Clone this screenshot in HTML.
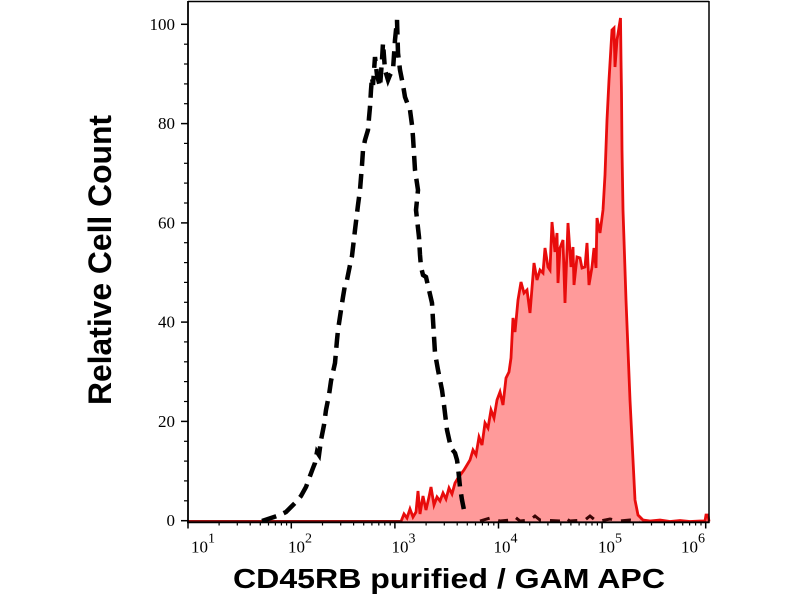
<!DOCTYPE html>
<html>
<head>
<meta charset="utf-8">
<style>
html,body{margin:0;padding:0;background:#fff;}
svg{display:block;}
</style>
</head>
<body>
<svg width="800" height="600" viewBox="0 0 800 600" xmlns="http://www.w3.org/2000/svg">
<rect x="0" y="0" width="800" height="600" fill="#fff"/>

<!-- red filled histogram -->
<path fill="#ff9a9a" stroke="none" d="M188,521.5 L401,521.5 L404,514 L407,518 L410,509 L413,517 L416,512 L418,491 L420,514 L423,496 L426,510 L429,497 L431,487 L434,505 L437,497 L440,501 L443,493 L446,499 L449,488 L452,494 L455,483 L458,478 L461,474 L464,470 L467,465 L470,460 L473,450 L476,455 L479,437 L482,445 L485,423 L488,428 L491,410 L494,418 L497,400 L500,392 L503,405 L506,378 L509,372 L511,358 L513,318 L515,332 L518,300 L521,282 L524,293 L527,290 L530,313 L534,263 L537,280 L540,270 L543,273 L545,248 L548,267 L550,270 L552,222 L555,252 L557,233 L558,283 L560,248 L563,240 L565,303 L568,223 L571,267 L573,247 L574,285 L577,257 L580,258 L582,268 L585,267 L587,243 L589,285 L592,267 L594,248 L596,268 L597,218 L600,233 L603,210 L605,175 L607,120 L609,80 L612,30 L614,28 L615,67 L617,40 L620.5,18 L621,60 L621.5,93 L622,150 L623,210 L626,300 L630,400 L633,460 L635,500 L638,515 L643,520 L650,521 L660,520 L670,521.5 L680,520.5 L690,521.5 L700,521 L705,521 L706,515 L708,515 L709,521.5 Z"/>
<path fill="none" stroke="#e80c0c" stroke-width="2.8" stroke-linejoin="miter" d="M188,521.5 L401,521.5 L404,514 L407,518 L410,509 L413,517 L416,512 L418,491 L420,514 L423,496 L426,510 L429,497 L431,487 L434,505 L437,497 L440,501 L443,493 L446,499 L449,488 L452,494 L455,483 L458,478 L461,474 L464,470 L467,465 L470,460 L473,450 L476,455 L479,437 L482,445 L485,423 L488,428 L491,410 L494,418 L497,400 L500,392 L503,405 L506,378 L509,372 L511,358 L513,318 L515,332 L518,300 L521,282 L524,293 L527,290 L530,313 L534,263 L537,280 L540,270 L543,273 L545,248 L548,267 L550,270 L552,222 L555,252 L557,233 L558,283 L560,248 L563,240 L565,303 L568,223 L571,267 L573,247 L574,285 L577,257 L580,258 L582,268 L585,267 L587,243 L589,285 L592,267 L594,248 L596,268 L597,218 L600,233 L603,210 L605,175 L607,120 L609,80 L612,30 L614,28 L615,67 L617,40 L620.5,18 L621,60 L621.5,93 L622,150 L623,210 L626,300 L630,400 L633,460 L635,500 L638,515 L643,520 L650,521 L660,520 L670,521.5 L680,520.5 L690,521.5 L700,521 L705,521 L706,515 L708,515 L709,521.5"/>
<!-- dark baseline overlap -->
<line x1="188" y1="521.5" x2="402" y2="521.5" stroke="#9a1212" stroke-width="3"/>

<!-- black dashed histogram -->
<path fill="none" stroke="#000" stroke-width="4.5" stroke-dasharray="15 8" stroke-linejoin="miter" d="M262,521 L268,519 L274,517 L280,515 L286,512 L291,507 L296,502 L301,496 L306,487 L310,476 L313,468 L315,463 L317,452 L319,455 L321,440 L324,425 L326,410 L329,395 L331,381 L333,372 L335,363 L337,340 L338,330 L341,310 L343,297 L345,285 L347,280 L350,265 L352,256 L355,230 L358,205 L360,190 L362,165 L363,150 L365,140 L368,130 L369,118 L370,107 L371,90 L372,77 L373,85 L375,57 L377,75 L380,87 L382,60 L383,43 L385,70 L388,80 L390,75 L393,70 L395,40 L397,20 L398,53 L400,70 L403,85 L405,97 L408,105 L410,110 L412,125 L413,137 L415,170 L418,190 L416,210 L419,237 L420,255 L421,267 L423,275 L426,277 L429,290 L432,303 L433,320 L435,353 L438,370 L442,390 L444,405 L447,430 L451,448 L455,453 L457,460 L458,467 L460,487 L462,500 L464,510"/>
<path fill="none" stroke="#3a0505" stroke-width="3" stroke-dasharray="10 9" d="M480,521 L490,518 L500,521 L510,520 L515,517 L520,521 L530,520 L535,516 L540,520 L560,521 L565,518 L570,521 L585,520 L590,516 L595,520 L600,521 L610,519 L620,521 L630,520 L640,521"/>

<!-- frame -->
<line x1="188" y1="1.5" x2="709" y2="1.5" stroke="#000" stroke-width="1.5"/>
<line x1="709" y1="1" x2="709" y2="523" stroke="#000" stroke-width="1.5"/>
<line x1="188" y1="1" x2="188" y2="523" stroke="#000" stroke-width="1.8"/>
<line x1="187" y1="522.3" x2="709.5" y2="522.3" stroke="#000" stroke-width="1.8"/>

<!-- y ticks -->
<g stroke="#000" stroke-width="1.5">
<line x1="181" y1="520.7" x2="188" y2="520.7"/>
<line x1="181" y1="421.4" x2="188" y2="421.4"/>
<line x1="181" y1="322.1" x2="188" y2="322.1"/>
<line x1="181" y1="222.9" x2="188" y2="222.9"/>
<line x1="181" y1="123.6" x2="188" y2="123.6"/>
<line x1="181" y1="24.3" x2="188" y2="24.3"/>
</g>
<g stroke="#000" stroke-width="1.2">
<line x1="184" y1="500.8" x2="188" y2="500.8"/><line x1="184" y1="480.9" x2="188" y2="480.9"/><line x1="184" y1="461.1" x2="188" y2="461.1"/><line x1="184" y1="441.3" x2="188" y2="441.3"/>
<line x1="184" y1="401.5" x2="188" y2="401.5"/><line x1="184" y1="381.6" x2="188" y2="381.6"/><line x1="184" y1="361.8" x2="188" y2="361.8"/><line x1="184" y1="341.9" x2="188" y2="341.9"/>
<line x1="184" y1="302.3" x2="188" y2="302.3"/><line x1="184" y1="282.4" x2="188" y2="282.4"/><line x1="184" y1="262.6" x2="188" y2="262.6"/><line x1="184" y1="242.7" x2="188" y2="242.7"/>
<line x1="184" y1="203.0" x2="188" y2="203.0"/><line x1="184" y1="183.1" x2="188" y2="183.1"/><line x1="184" y1="163.3" x2="188" y2="163.3"/><line x1="184" y1="143.4" x2="188" y2="143.4"/>
<line x1="184" y1="103.7" x2="188" y2="103.7"/><line x1="184" y1="83.9" x2="188" y2="83.9"/><line x1="184" y1="64.0" x2="188" y2="64.0"/><line x1="184" y1="44.2" x2="188" y2="44.2"/>
</g>
<g font-family="Liberation Serif, serif" font-size="17" fill="#000" text-anchor="end">
<text x="175" y="526">0</text>
<text x="175" y="427">20</text>
<text x="175" y="327.5">40</text>
<text x="175" y="228.5">60</text>
<text x="175" y="129">80</text>
<text x="175" y="30">100</text>
</g>

<!-- x ticks -->
<g stroke="#000" stroke-width="1.5">
<line x1="188" y1="522" x2="188" y2="528.5"/>
<line x1="291.3" y1="522" x2="291.3" y2="528.5"/>
<line x1="394.9" y1="522" x2="394.9" y2="528.5"/>
<line x1="498.5" y1="522" x2="498.5" y2="528.5"/>
<line x1="602.1" y1="522" x2="602.1" y2="528.5"/>
<line x1="705.7" y1="522" x2="705.7" y2="528.5"/>
</g>
<g stroke="#000" stroke-width="1.2">
<line x1="219.1" y1="522" x2="219.1" y2="525.5"/><line x1="237.3" y1="522" x2="237.3" y2="525.5"/><line x1="250.2" y1="522" x2="250.2" y2="525.5"/><line x1="260.3" y1="522" x2="260.3" y2="525.5"/><line x1="268.5" y1="522" x2="268.5" y2="525.5"/><line x1="275.4" y1="522" x2="275.4" y2="525.5"/><line x1="281.4" y1="522" x2="281.4" y2="525.5"/><line x1="286.6" y1="522" x2="286.6" y2="525.5"/>
<line x1="322.5" y1="522" x2="322.5" y2="525.5"/><line x1="340.7" y1="522" x2="340.7" y2="525.5"/><line x1="353.6" y1="522" x2="353.6" y2="525.5"/><line x1="363.7" y1="522" x2="363.7" y2="525.5"/><line x1="371.9" y1="522" x2="371.9" y2="525.5"/><line x1="378.8" y1="522" x2="378.8" y2="525.5"/><line x1="384.8" y1="522" x2="384.8" y2="525.5"/><line x1="390.2" y1="522" x2="390.2" y2="525.5"/>
<line x1="426.1" y1="522" x2="426.1" y2="525.5"/><line x1="444.3" y1="522" x2="444.3" y2="525.5"/><line x1="457.2" y1="522" x2="457.2" y2="525.5"/><line x1="467.3" y1="522" x2="467.3" y2="525.5"/><line x1="475.5" y1="522" x2="475.5" y2="525.5"/><line x1="482.4" y1="522" x2="482.4" y2="525.5"/><line x1="488.4" y1="522" x2="488.4" y2="525.5"/><line x1="493.8" y1="522" x2="493.8" y2="525.5"/>
<line x1="529.7" y1="522" x2="529.7" y2="525.5"/><line x1="547.9" y1="522" x2="547.9" y2="525.5"/><line x1="560.8" y1="522" x2="560.8" y2="525.5"/><line x1="570.9" y1="522" x2="570.9" y2="525.5"/><line x1="579.1" y1="522" x2="579.1" y2="525.5"/><line x1="586.0" y1="522" x2="586.0" y2="525.5"/><line x1="592.0" y1="522" x2="592.0" y2="525.5"/><line x1="597.4" y1="522" x2="597.4" y2="525.5"/>
<line x1="633.3" y1="522" x2="633.3" y2="525.5"/><line x1="651.5" y1="522" x2="651.5" y2="525.5"/><line x1="664.4" y1="522" x2="664.4" y2="525.5"/><line x1="674.5" y1="522" x2="674.5" y2="525.5"/><line x1="682.7" y1="522" x2="682.7" y2="525.5"/><line x1="689.6" y1="522" x2="689.6" y2="525.5"/><line x1="695.6" y1="522" x2="695.6" y2="525.5"/><line x1="701.0" y1="522" x2="701.0" y2="525.5"/>
</g>
<g font-family="Liberation Serif, serif" fill="#000">
<text x="191" y="552.5" font-size="17">10<tspan font-size="14" dy="-10">1</tspan></text>
<text x="288" y="552.5" font-size="17">10<tspan font-size="14" dy="-10">2</tspan></text>
<text x="391.5" y="552.5" font-size="17">10<tspan font-size="14" dy="-10">3</tspan></text>
<text x="493.5" y="552.5" font-size="17">10<tspan font-size="14" dy="-10">4</tspan></text>
<text x="598" y="552.5" font-size="17">10<tspan font-size="14" dy="-10">5</tspan></text>
<text x="681" y="552.5" font-size="17">10<tspan font-size="14" dy="-10">6</tspan></text>
</g>

<!-- axis titles -->
<text transform="translate(111,260) rotate(-90)" x="0" y="0" text-anchor="middle" font-family="Liberation Sans, Arial, sans-serif" font-weight="bold" font-size="32" fill="#000" textLength="290" lengthAdjust="spacingAndGlyphs">Relative Cell Count</text>
<text x="233" y="588" font-family="Liberation Sans, Arial, sans-serif" font-weight="bold" font-size="28" fill="#000" textLength="432" lengthAdjust="spacingAndGlyphs">CD45RB purified / GAM APC</text>
</svg>
</body>
</html>
